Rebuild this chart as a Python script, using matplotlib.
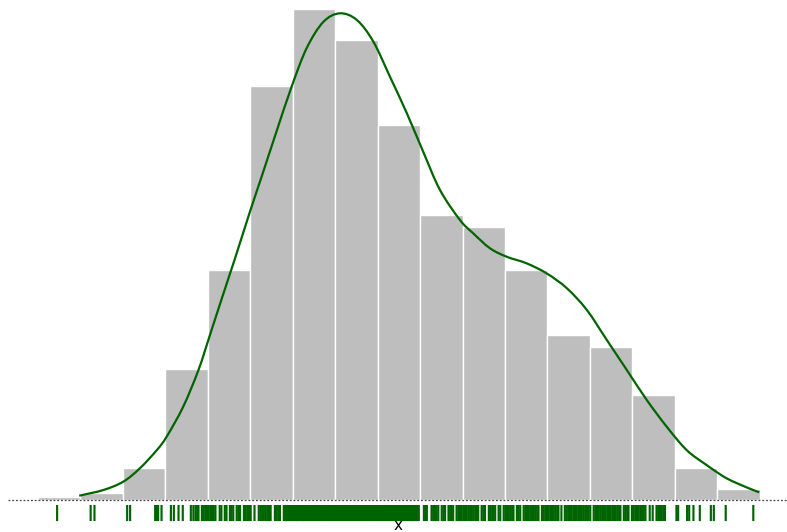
import numpy as np
import matplotlib
matplotlib.use("Agg")
import matplotlib.pyplot as plt
from matplotlib.path import Path
from matplotlib.patches import PathPatch

# Histogram: 17 equal-width bins (edges 0..17), counts per bin
bin_edges = list(range(18))
counts = [2, 5, 24, 97, 170, 307, 364, 341, 278, 211, 202, 170, 122, 113, 78, 24, 8]

# KDE curve (scaled to counts)
kde_x = [0.97, 1.54, 2.01, 2.40, 2.80, 3.03, 3.42, 3.78, 4.05, 4.33, 4.64, 4.99,
         5.28, 5.61, 5.98, 6.33, 6.72, 7.11, 7.51, 7.90, 8.29, 8.69,
         9.08, 9.47, 9.94, 10.25, 10.65, 11.04, 11.51, 11.98, 12.46, 12.93,
         13.40, 13.87, 14.34, 14.81, 15.28, 15.75, 16.22, 16.69, 16.99]
kde_y = [3.2, 7.4, 13.6, 23.5, 37.0, 46.9, 69.1, 96.3, 122.2, 149.3, 178.9, 213.3,
         240.7, 272.2, 306.7, 334.8, 354.1, 360.5, 355.6, 339.5, 313.6, 286.4,
         257.5, 229.6, 207.4, 197.6, 186.4, 180.2, 175.3, 167.9, 156.8, 140.7,
         118.5, 96.3, 74.1, 54.3, 37.0, 25.9, 16.1, 9.4, 5.7]

# Rug observations
rug_left = [0.45, 1.24, 1.33, 2.10, 2.17, 2.76, 2.80, 2.83, 2.91, 3.13, 3.20, 3.31, 3.41]
rug_dense = [
    3.60, 3.66, 3.71, 3.75, 3.78, 3.86, 3.90, 3.94, 3.98, 4.02, 4.06, 4.10, 4.14, 4.18,
    4.28, 4.32, 4.40, 4.44, 4.52, 4.56, 4.60, 4.68, 4.72, 4.76, 4.85, 4.89, 4.93, 4.97,
    5.01, 5.10, 5.20, 5.24, 5.28, 5.32, 5.36, 5.40, 5.44, 5.48, 5.58, 5.62, 5.66, 5.70,
    5.79, 5.82, 5.86, 5.91, 5.94, 5.98, 6.03, 6.05, 6.10, 6.14, 6.17, 6.22, 6.26, 6.29,
    6.33, 6.38, 6.41, 6.45, 6.50, 6.53, 6.57, 6.61, 6.66, 6.69, 6.73, 6.78, 6.81, 6.85,
    6.89, 6.94, 6.97, 7.01, 7.06, 7.09, 7.13, 7.17, 7.22, 7.25, 7.29, 7.34, 7.37, 7.41,
    7.45, 7.50, 7.53, 7.57, 7.62, 7.65, 7.69, 7.73, 7.78, 7.81, 7.85, 7.90, 7.93, 7.97,
    8.01, 8.06, 8.09, 8.13, 8.18, 8.21, 8.25, 8.29, 8.34, 8.37, 8.41, 8.46, 8.49, 8.53,
    8.57, 8.62, 8.65, 8.69, 8.74, 8.77, 8.81, 8.85, 8.90, 8.93, 8.97, 9.09, 9.13, 9.16,
    9.27, 9.31, 9.35, 9.39, 9.43, 9.51, 9.55, 9.59, 9.67, 9.71, 9.74, 9.78, 9.86, 9.90,
    9.94, 9.98, 10.02, 10.06, 10.10, 10.14, 10.18, 10.22, 10.26, 10.30, 10.34, 10.37,
    10.45, 10.49, 10.53, 10.62, 10.66, 10.70, 10.73, 10.77, 10.85, 10.89, 10.97, 11.01,
    11.05, 11.09, 11.13, 11.17, 11.20, 11.28, 11.32, 11.36, 11.44, 11.48, 11.52, 11.56,
    11.60, 11.64, 11.68, 11.72, 11.76, 11.79, 11.87, 11.91, 11.95, 11.99, 12.03, 12.07,
    12.11, 12.15, 12.19, 12.23, 12.26, 12.33, 12.41, 12.45, 12.49, 12.53, 12.57, 12.61,
    12.65, 12.69, 12.73, 12.77, 12.81, 12.85, 12.89, 12.93, 12.97, 13.01, 13.09, 13.13,
    13.17, 13.21, 13.25, 13.29, 13.33, 13.37, 13.41, 13.45, 13.49, 13.53, 13.57, 13.61,
    13.65, 13.69, 13.72, 13.80, 13.84, 13.88, 13.91, 13.99, 14.03, 14.07, 14.11, 14.15,
    14.19, 14.23, 14.27, 14.31, 14.41, 14.48, 14.57, 14.61, 14.65, 14.69, 14.73, 14.77]
rug_peak = [
    5.84, 5.88, 5.96, 6.01, 6.08, 6.12, 6.20, 6.24, 6.31, 6.36, 6.43, 6.48, 6.55, 6.59,
    6.64, 6.71, 6.76, 6.83, 6.87, 6.92, 6.99, 7.04, 7.11, 7.15, 7.20, 7.27, 7.32, 7.39,
    7.43, 7.48, 7.55, 7.60, 7.67, 7.71, 7.76, 7.83, 7.88, 7.95, 7.99, 8.04, 8.11, 8.16,
    8.23, 8.27, 8.32, 8.39, 8.44, 8.51, 8.55, 8.60, 8.67, 8.72, 8.79, 8.83, 8.88, 8.95]
rug_right = [15.04, 15.08, 15.29, 15.34, 15.44, 15.59, 15.85, 15.92, 16.20, 16.85]
rug = rug_left + rug_dense + rug_peak + rug_right


def smooth_path(xs, ys):
    """Catmull-Rom curve through the points, as cubic Bezier segments."""
    p = np.column_stack([xs, ys])
    verts = [p[0]]
    codes = [Path.MOVETO]
    n = len(p)
    for i in range(n - 1):
        p0 = p[i - 1] if i > 0 else p[i]
        p1, p2 = p[i], p[i + 1]
        p3 = p[i + 2] if i + 2 < n else p[i + 1]
        c1 = p1 + (p2 - p0) / 6.0
        c2 = p2 - (p3 - p1) / 6.0
        verts += [c1, c2, p2]
        codes += [Path.CURVE4] * 3
    return Path(verts, codes)


W, H = 787, 532
fig = plt.figure(figsize=(W / 100, H / 100), dpi=100)
ax = fig.add_axes([8 / W, (H - 522) / H, (W - 8) / W, 522 / H])

widths = np.diff(bin_edges)
ax.bar(bin_edges[:-1], counts, width=widths, align="edge",
       color="#bebebe", edgecolor="white", linewidth=1.0, zorder=1)
ax.add_patch(PathPatch(smooth_path(kde_x, kde_y), facecolor="none",
                       edgecolor="#006400", lw=1.6, zorder=3))
ax.axhline(0, color="#444444", lw=0.9, linestyle=(0, (1.5, 1.5)), zorder=2)
rl = ax.vlines(rug, -3.7, -15.6, color="#006400", lw=1.55, zorder=2)
rl.set_snap(False)

ax.set_xlim(-0.707, 17.644)
ax.set_ylim(-22 / 1.35, 500 / 1.35)
for s in ax.spines.values():
    s.set_visible(False)
ax.set_xticks([])
ax.set_yticks([])

fig.text(398 / W, 1 - 526 / H, "x", ha="center", va="center", fontsize=11, color="black")

fig.savefig("out.png", dpi=100)
